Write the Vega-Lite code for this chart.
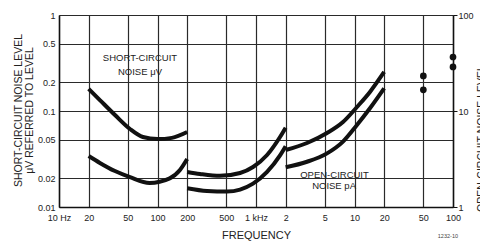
{
  "$schema": "https://vega.github.io/schema/vega-lite/v6.json",
  "width": 394,
  "height": 192,
  "autosize": {"type": "none"},
  "padding": {"left": 59, "top": 15, "right": 27, "bottom": 34},
  "background": "white",
  "config": {
    "view": {"stroke": null},
    "font": "Liberation Sans",
    "axis": {
      "labelFont": "Liberation Sans",
      "titleFont": "Liberation Sans",
      "labelColor": "#222",
      "titleColor": "#222",
      "titleFontWeight": "normal",
      "domainColor": "#111",
      "domainWidth": 1.5,
      "gridColor": "#2a2a2a",
      "gridWidth": 1.2,
      "gridOpacity": 1,
      "labelFlush": false,
      "labelOverlap": false,
      "labelBound": false
    }
  },
  "title": {"text": "1232-10", "orient": "bottom", "anchor": "end", "frame": "group", "fontSize": 5.5, "fontWeight": "normal", "color": "#444", "offset": -6, "dx": 5},
  "datasets": {
    "curves": [
      {"curve": "A1", "f": 20, "v": 0.170},
      {"curve": "A1", "f": 26, "v": 0.130},
      {"curve": "A1", "f": 37, "v": 0.0908},
      {"curve": "A1", "f": 52.6, "v": 0.0649},
      {"curve": "A1", "f": 71, "v": 0.0536},
      {"curve": "A1", "f": 100, "v": 0.051},
      {"curve": "A1", "f": 140, "v": 0.0525},
      {"curve": "A1", "f": 200, "v": 0.0604},
      {"curve": "B1", "f": 20, "v": 0.034},
      {"curve": "B1", "f": 26, "v": 0.0288},
      {"curve": "B1", "f": 37, "v": 0.0237},
      {"curve": "B1", "f": 52.6, "v": 0.0205},
      {"curve": "B1", "f": 83, "v": 0.0178},
      {"curve": "B1", "f": 133, "v": 0.0199},
      {"curve": "B1", "f": 169, "v": 0.0243},
      {"curve": "B1", "f": 200, "v": 0.0316},
      {"curve": "A2", "f": 200, "v": 0.0232},
      {"curve": "A2", "f": 270, "v": 0.0221},
      {"curve": "A2", "f": 431, "v": 0.0211},
      {"curve": "A2", "f": 689, "v": 0.0226},
      {"curve": "A2", "f": 933, "v": 0.0261},
      {"curve": "A2", "f": 1295, "v": 0.0348},
      {"curve": "A2", "f": 1754, "v": 0.0536},
      {"curve": "A2", "f": 2000, "v": 0.067},
      {"curve": "B2", "f": 200, "v": 0.0157},
      {"curve": "B2", "f": 318, "v": 0.0147},
      {"curve": "B2", "f": 508, "v": 0.0145},
      {"curve": "B2", "f": 689, "v": 0.0152},
      {"curve": "B2", "f": 933, "v": 0.0175},
      {"curve": "B2", "f": 1295, "v": 0.0232},
      {"curve": "B2", "f": 1754, "v": 0.0345},
      {"curve": "B2", "f": 2000, "v": 0.043},
      {"curve": "A3", "f": 2000, "v": 0.0392},
      {"curve": "A3", "f": 3296, "v": 0.0464},
      {"curve": "A3", "f": 5260, "v": 0.059},
      {"curve": "A3", "f": 7640, "v": 0.0768},
      {"curve": "A3", "f": 10590, "v": 0.110},
      {"curve": "A3", "f": 14350, "v": 0.158},
      {"curve": "A3", "f": 20000, "v": 0.255},
      {"curve": "B3", "f": 2000, "v": 0.0259},
      {"curve": "B3", "f": 3296, "v": 0.0296},
      {"curve": "B3", "f": 5260, "v": 0.0362},
      {"curve": "B3", "f": 7640, "v": 0.048},
      {"curve": "B3", "f": 10590, "v": 0.0715},
      {"curve": "B3", "f": 14350, "v": 0.1067},
      {"curve": "B3", "f": 20000, "v": 0.172}
    ],
    "labels": [
      {"label": "SHORT-CIRCUIT", "f": 66.4, "v": 0.356},
      {"label": "NOISE μV", "f": 66.4, "v": 0.255},
      {"label": "OPEN-CIRCUIT", "f": 6266, "v": 0.0215},
      {"label": "NOISE pA", "f": 6200, "v": 0.0166}
    ],
    "dots": [
      {"f": 50000, "pA": 23.2},
      {"f": 50000, "pA": 16.6},
      {"f": 100000, "pA": 36.5},
      {"f": 100000, "pA": 28.8}
    ]
  },
  "layer": [
    {
      "encoding": {
        "x": {
          "field": "f",
          "type": "quantitative",
          "scale": {"type": "log", "domain": [10, 100000]},
          "axis": {
            "values": [10, 20, 50, 100, 200, 500, 1000, 2000, 5000, 10000, 20000, 50000, 100000],
            "labelExpr": "datum.value == 10 ? '10 Hz' : datum.value == 1000 ? '1 kHz' : datum.value > 1000 ? format(datum.value / 1000, 'd') : format(datum.value, 'd')",
            "grid": true,
            "ticks": false,
            "tickSize": 0,
            "labelPadding": 6,
            "labelFontSize": 9,
            "title": "FREQUENCY",
            "titleFontSize": 11,
            "titleY": 31,
            "titleBaseline": "alphabetic"
          }
        },
        "y": {
          "field": "v",
          "type": "quantitative",
          "scale": {"type": "log", "domain": [0.01, 1]},
          "axis": {
            "values": [0.01, 0.02, 0.05, 0.1, 0.2, 0.5, 1],
            "labelExpr": "'' + datum.value",
            "grid": true,
            "ticks": false,
            "tickSize": 0,
            "labelPadding": 4,
            "labelFontSize": 9,
            "title": ["SHORT-CIRCUIT NOISE LEVEL", "μV REFERRED TO LEVEL"],
            "titleFontSize": 10.5,
            "titleLineHeight": 11.5,
            "titleAngle": -90,
            "titleX": -38,
            "titleY": 95,
            "titleAlign": "center",
            "titleBaseline": "alphabetic"
          }
        }
      },
      "layer": [
        {
          "data": {"name": "curves"},
          "mark": {"type": "line", "interpolate": "monotone", "strokeWidth": 4, "color": "#111"},
          "encoding": {"detail": {"field": "curve"}}
        },
        {
          "data": {"name": "labels"},
          "mark": {"type": "text", "fontSize": 9.5, "align": "center", "baseline": "middle", "color": "#222"},
          "encoding": {"text": {"field": "label"}}
        }
      ]
    },
    {
      "data": {"name": "dots"},
      "mark": {"type": "point", "filled": true, "size": 45, "color": "#111", "opacity": 1},
      "encoding": {
        "x": {"field": "f", "type": "quantitative"},
        "y": {
          "field": "pA",
          "type": "quantitative",
          "scale": {"type": "log", "domain": [1, 100]},
          "axis": {
            "orient": "right",
            "values": [1, 10, 100],
            "labelExpr": "'' + datum.value",
            "grid": false,
            "tickSize": 4,
            "tickColor": "#111",
            "labelPadding": 1,
            "labelFontSize": 9,
            "title": "OPEN-CIRCUIT NOISE LEVEL",
            "titleFontSize": 10.5,
            "titleAngle": -90,
            "titleX": 31,
            "titleY": 123,
            "titleAlign": "center",
            "titleBaseline": "alphabetic"
          }
        }
      }
    }
  ],
  "resolve": {"scale": {"y": "independent"}}
}
